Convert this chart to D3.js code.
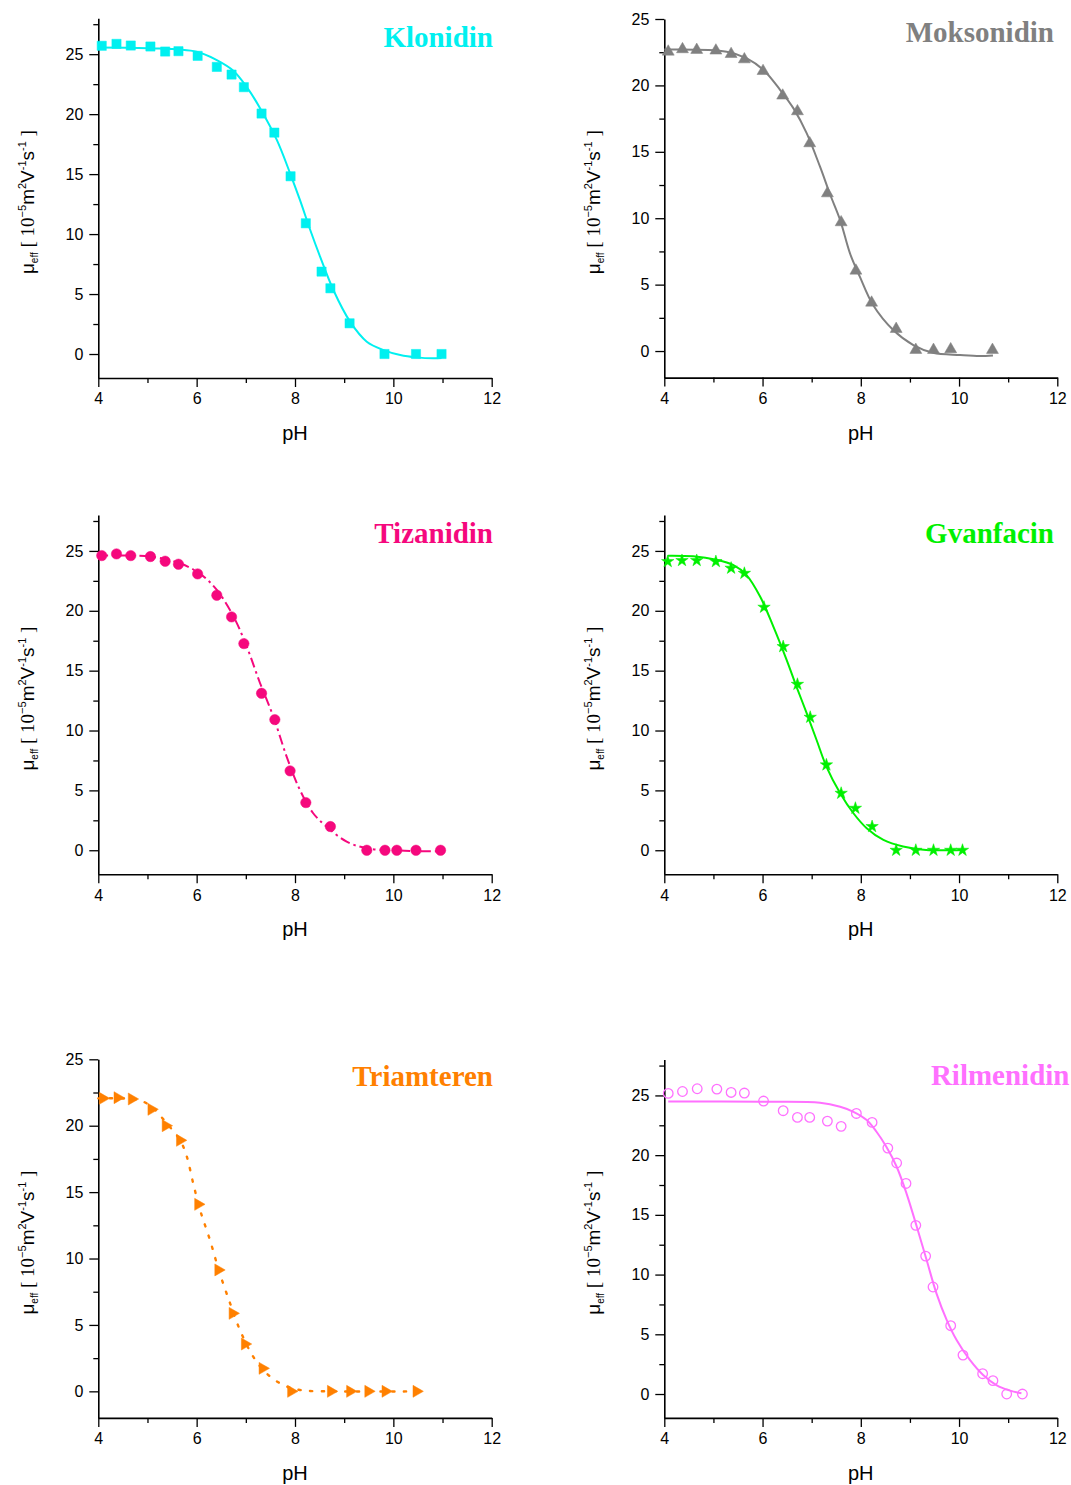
<!DOCTYPE html>
<html>
<head>
<meta charset="utf-8">
<script src="https://cdn.jsdelivr.net/npm/d3@7"></script>
<style>
  html, body { margin: 0; padding: 0; background: #fff; }
  svg { display: block; }
</style>
</head>
<body>
<svg id="chart" width="1071" height="1485"></svg>
<script>
// ---------------- DATA ----------------
const xTickLabels = [4, 6, 8, 10, 12];
const xMinorTicks = [5, 7, 9, 11];
const yTickLabels = [0, 5, 10, 15, 20, 25];

// Klonidin
const kloPH = [4.07, 4.37, 4.66, 5.06, 5.36, 5.63, 6.02, 6.41, 6.71, 6.96, 7.32, 7.58, 7.91, 8.22, 8.54, 8.72, 9.11, 9.82, 10.46, 10.98];
const kloMu = [25.7, 25.86, 25.72, 25.64, 25.22, 25.25, 24.86, 23.94, 23.3, 22.25, 20.05, 18.46, 14.82, 10.9, 6.87, 5.48, 2.56, 0, 0, 0];
const kloFitPH = [4.0, 5.0, 6.0, 6.41, 6.75, 7.02, 7.29, 7.63, 7.9, 8.1, 8.31, 8.51, 8.78, 9.12, 9.46, 9.8, 10.14, 10.47, 10.81, 10.98];
const kloFitMu = [25.56, 25.5, 25.2, 24.5, 23.6, 22.25, 20.5, 17.85, 15.07, 12.85, 10.34, 8.12, 5.34, 2.7, 1.03, 0.33, -0.08, -0.28, -0.36, -0.33];

// Moksonidin
const mokPH = [4.08, 4.37, 4.66, 5.05, 5.36, 5.63, 6.01, 6.41, 6.71, 6.96, 7.32, 7.6, 7.9, 8.22, 8.72, 9.12, 9.48, 9.83, 10.68];
const mokMu = [22.54, 22.72, 22.67, 22.62, 22.36, 21.96, 21.08, 19.23, 18.05, 15.64, 11.87, 9.69, 6.05, 3.64, 1.66, 0.08, 0.08, 0.13, 0.08];
const mokFitPH = [4.0, 5.27, 5.68, 6.02, 6.36, 6.63, 6.9, 7.17, 7.38, 7.58, 7.78, 7.98, 8.25, 8.66, 9.07, 9.47, 10.02, 10.42, 10.69];
const mokFitMu = [22.7, 22.54, 22.04, 21.16, 19.65, 18.27, 16.39, 13.88, 11.75, 9.86, 7.35, 5.6, 3.46, 1.58, 0.45, -0.13, -0.3, -0.38, -0.33];

// Tizanidin
const tizPH = [4.07, 4.37, 4.66, 5.06, 5.36, 5.63, 6.02, 6.41, 6.71, 6.96, 7.32, 7.59, 7.9, 8.22, 8.72, 9.46, 9.83, 10.07, 10.46, 10.96];
const tizMu = [24.61, 24.75, 24.61, 24.53, 24.14, 23.89, 23.08, 21.3, 19.49, 17.26, 13.11, 10.91, 6.63, 3.98, 1.98, 0, 0, 0, 0, 0];
const tizFitPH = [4.0, 5.05, 5.66, 6.07, 6.41, 6.75, 7.02, 7.29, 7.56, 7.83, 8.1, 8.37, 8.64, 9.05, 9.46, 10.14, 11.02];
const tizFitMu = [24.6, 24.53, 23.97, 23.08, 21.74, 19.52, 17.0, 13.95, 11.16, 7.82, 5.04, 3.09, 1.98, 0.72, 0.17, -0.03, -0.1];

// Gvanfacin
const gvaPH = [4.07, 4.36, 4.66, 5.05, 5.36, 5.63, 6.03, 6.42, 6.71, 6.97, 7.3, 7.6, 7.89, 8.23, 8.72, 9.12, 9.48, 9.83, 10.07];
const gvaMu = [24.11, 24.2, 24.2, 24.11, 23.56, 23.13, 20.3, 17.01, 13.86, 11.11, 7.13, 4.76, 3.51, 1.98, 0, 0, 0, 0, 0];
const gvaFitPH = [4.07, 4.59, 5.06, 5.4, 5.67, 5.95, 6.22, 6.49, 6.69, 6.9, 7.1, 7.3, 7.58, 7.85, 8.12, 8.46, 8.86, 9.33, 10.08];
const gvaFitMu = [24.6, 24.55, 24.26, 23.83, 23.0, 21.19, 18.68, 15.9, 13.67, 11.44, 9.21, 6.99, 4.76, 3.09, 1.84, 0.86, 0.31, 0.03, 0.03];

// Triamteren
const triPH = [4.09, 4.39, 4.68, 5.08, 5.37, 5.66, 6.03, 6.44, 6.73, 6.98, 7.34, 7.92, 8.73, 9.12, 9.49, 9.84, 10.47];
const triMu = [22.06, 22.11, 22.01, 21.23, 20.0, 18.9, 14.08, 9.14, 5.87, 3.56, 1.73, 0, 0, 0, 0, 0, 0];
const triFitPH = [4.0, 4.85, 5.12, 5.39, 5.66, 5.8, 5.93, 6.07, 6.27, 6.47, 6.68, 6.88, 7.15, 7.42, 7.76, 8.1, 8.78, 10.54];
const triFitMu = [22.06, 21.9, 21.3, 20.18, 18.93, 17.67, 15.66, 13.65, 11.4, 8.89, 6.63, 4.62, 2.61, 1.36, 0.48, 0.1, 0, 0];

// Rilmenidin
const rilPH = [4.08, 4.37, 4.67, 5.07, 5.36, 5.63, 6.02, 6.42, 6.71, 6.96, 7.32, 7.6, 7.91, 8.23, 8.55, 8.73, 8.92, 9.12, 9.32, 9.47, 9.83, 10.08, 10.48, 10.69, 10.97, 11.29];
const rilMu = [25.17, 25.33, 25.56, 25.53, 25.25, 25.2, 24.53, 23.72, 23.16, 23.16, 22.85, 22.41, 23.49, 22.74, 20.59, 19.34, 17.63, 14.12, 11.55, 8.96, 5.72, 3.26, 1.7, 1.12, 0, 0];
const rilFitPH = [4.08, 5.99, 7.17, 7.58, 7.85, 8.12, 8.32, 8.52, 8.73, 8.93, 9.14, 9.34, 9.54, 9.75, 9.95, 10.22, 10.49, 10.76, 11.04, 11.27];
const rilFitMu = [24.5, 24.47, 24.39, 24.05, 23.63, 22.94, 21.96, 20.7, 19.03, 16.8, 14.0, 11.22, 8.43, 6.19, 4.52, 2.85, 1.59, 0.75, 0.28, 0.06];

const titles = ["Klonidin", "Moksonidin", "Tizanidin", "Gvanfacin", "Triamteren", "Rilmenidin"];
const xDomain = [4, 12];

// ---------------- LAYOUT ----------------
const panels = [
  { title: titles[0], color: "#00f0f0", ph: kloPH, mu: kloMu, fph: kloFitPH, fmu: kloFitMu, sym: "square",
    x0: 98.3, x1: 491.7, yDom: [-2, 28], yR: [378.0, 18.2], tx: 493, ty: 46.7, dash: null },
  { title: titles[1], color: "#808080", ph: mokPH, mu: mokMu, fph: mokFitPH, fmu: mokFitMu, sym: "triangle",
    x0: 664.3, x1: 1057.3, yDom: [-2, 25], yR: [377.6, 19.0], tx: 1054, ty: 42.3, dash: null },
  { title: titles[2], color: "#f5087d", ph: tizPH, mu: tizMu, fph: tizFitPH, fmu: tizFitMu, sym: "circle",
    x0: 98.3, x1: 491.7, yDom: [-2, 28], yR: [874.2, 515.0], tx: 493, ty: 542.7, dash: "10,4,2.5,4" },
  { title: titles[3], color: "#00f000", ph: gvaPH, mu: gvaMu, fph: gvaFitPH, fmu: gvaFitMu, sym: "star",
    x0: 664.3, x1: 1057.3, yDom: [-2, 28], yR: [874.2, 515.0], tx: 1054, ty: 542.7, dash: null },
  { title: titles[4], color: "#ff8000", ph: triPH, mu: triMu, fph: triFitPH, fmu: triFitMu, sym: "rtriangle",
    x0: 98.3, x1: 491.7, yDom: [-2, 25], yR: [1417.9, 1059.3], tx: 493, ty: 1085.7, dash: "2.2,9.5" },
  { title: titles[5], color: "#ff70ff", ph: rilPH, mu: rilMu, fph: rilFitPH, fmu: rilFitMu, sym: "ocircle",
    x0: 664.3, x1: 1057.3, yDom: [-2, 28], yR: [1417.9, 1059.6], tx: 1069.5, ty: 1085, dash: null }
];

const svg = d3.select("#chart");
const sans = "'Liberation Sans', Arial, Helvetica, sans-serif";
const serif = "'Liberation Serif', 'Times New Roman', serif";

function minorY(dom) {
  const out = [];
  for (let v = -2.5; v <= dom[1] + 1e-9; v += 2.5) {
    if (v >= dom[0] && Math.abs(v % 5) > 1e-9) out.push(v);
  }
  return out;
}

panels.forEach(p => {
  const g = svg.append("g");
  const x = d3.scaleLinear().domain(xDomain).range([p.x0, p.x1]);
  const y = d3.scaleLinear().domain(p.yDom).range(p.yR);

  // X axis
  g.append("g").attr("transform", `translate(0,${p.yR[0]})`)
    .call(d3.axisBottom(x).tickValues(xTickLabels).tickSize(9).tickSizeOuter(0).tickPadding(6).tickFormat(d3.format("d")));
  g.append("g").attr("transform", `translate(0,${p.yR[0]})`)
    .call(d3.axisBottom(x).tickValues(xMinorTicks).tickSize(5).tickSizeOuter(0).tickFormat(""))
    .call(s => s.select(".domain").remove());

  // Y axis
  g.append("g").attr("transform", `translate(${p.x0},0)`)
    .call(d3.axisLeft(y).tickValues(yTickLabels).tickSize(9).tickSizeOuter(0).tickPadding(6).tickFormat(d3.format("d")));
  g.append("g").attr("transform", `translate(${p.x0},0)`)
    .call(d3.axisLeft(y).tickValues(minorY(p.yDom)).tickSize(5).tickSizeOuter(0).tickFormat(""))
    .call(s => s.select(".domain").remove());

  g.selectAll(".domain").attr("stroke", "#000").attr("stroke-width", 1.6);
  g.selectAll(".tick line").attr("stroke", "#000").attr("stroke-width", 1.3);
  g.selectAll(".tick text").attr("font-family", sans).attr("font-size", 16).attr("fill", "#000");

  // X label
  g.append("text")
    .attr("x", (p.x0 + p.x1) / 2)
    .attr("y", p.yR[0] + 62)
    .attr("text-anchor", "middle")
    .attr("font-family", sans).attr("font-size", 20)
    .text("pH");

  // Y label
  const cy = (p.yR[0] + p.yR[1]) / 2 + 4;
  const lx = p.x0 - 64;
  const yl = g.append("text")
    .attr("transform", `translate(${lx},${cy}) rotate(-90)`)
    .attr("text-anchor", "middle")
    .attr("font-family", sans).attr("font-size", 19).attr("fill", "#000");
  const parts = [
    { t: "μ", dy: 0, f: sans, s: 19 },
    { t: "eff", dy: 4, f: sans, s: 10 },
    { t: " [ 10", dy: -4, f: serif, s: 19 },
    { t: "−5", dy: -8, f: sans, s: 11 },
    { t: "m", dy: 8, f: sans, s: 19 },
    { t: "2", dy: -8, f: sans, s: 11 },
    { t: "V", dy: 8, f: sans, s: 19 },
    { t: "-1", dy: -8, f: sans, s: 11 },
    { t: "s", dy: 8, f: sans, s: 19 },
    { t: "-1", dy: -8, f: sans, s: 11 },
    { t: " ]", dy: 8, f: serif, s: 19 }
  ];
  parts.forEach(pt => {
    yl.append("tspan").attr("dy", pt.dy).attr("font-family", pt.f).attr("font-size", pt.s)
      .attr("xml:space", "preserve").text(pt.t);
  });

  // Fit line
  const fit = p.fph.map((v, i) => [v, p.fmu[i]]);
  const line = d3.line().x(d => x(d[0])).y(d => y(d[1])).curve(d3.curveCatmullRom.alpha(0.5));
  const path = g.append("path")
    .attr("d", line(fit))
    .attr("fill", "none")
    .attr("stroke", p.color)
    .attr("stroke-width", 2);
  if (p.dash) {
    path.attr("stroke-dasharray", p.dash);
    if (p.sym === "rtriangle") path.attr("stroke-linecap", "round").attr("stroke-width", 2.4);
  }

  // Markers
  const pts = p.ph.map((v, i) => [v, p.mu[i]]);
  let symType, size, rot = 0, filled = true;
  switch (p.sym) {
    case "square": symType = d3.symbolSquare; size = 85; break;
    case "triangle": symType = d3.symbolTriangle; size = 62; break;
    case "circle": symType = d3.symbolCircle; size = 85; break;
    case "star": symType = d3.symbolStar; size = 48; break;
    case "rtriangle": symType = d3.symbolTriangle; size = 62; rot = 90; break;
    case "ocircle": symType = d3.symbolCircle; size = 72; filled = false; break;
  }
  const sym = d3.symbol().type(symType).size(size);
  g.selectAll(null).data(pts).enter().append("path")
    .attr("d", sym())
    .attr("transform", d => `translate(${x(d[0])},${y(d[1])}) rotate(${rot})`)
    .attr("fill", filled ? p.color : "none")
    .attr("stroke", p.color)
    .attr("stroke-width", filled ? 0.5 : 1.3);

  // Title
  g.append("text")
    .attr("x", p.tx).attr("y", p.ty)
    .attr("text-anchor", "end")
    .attr("font-family", serif).attr("font-weight", "bold").attr("font-size", 29)
    .attr("fill", p.color)
    .text(p.title);
});
</script>
</body>
</html>
